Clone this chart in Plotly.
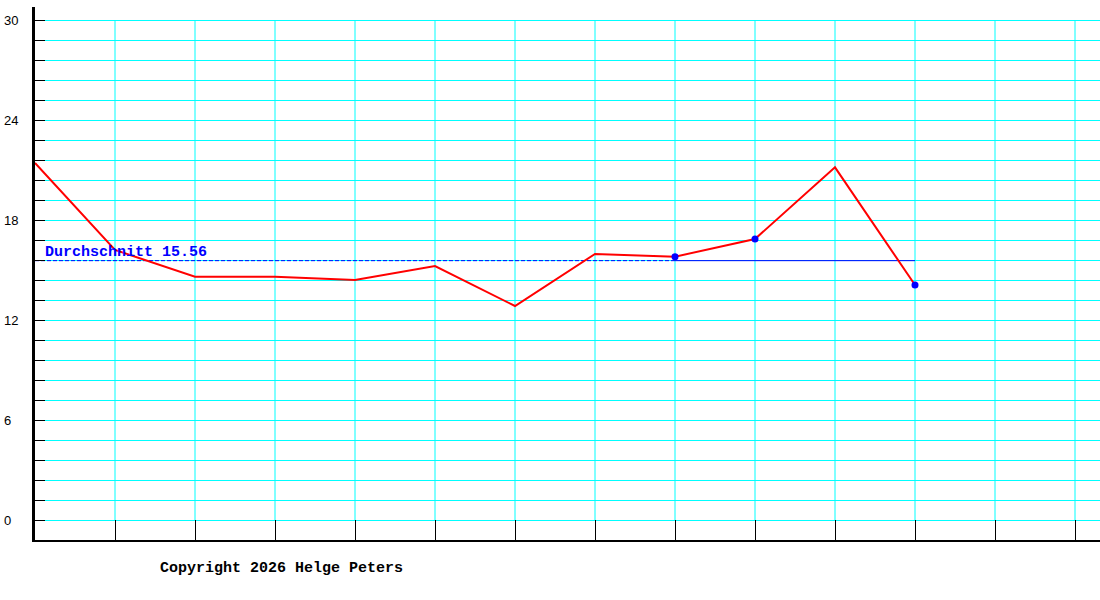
import plotly.graph_objects as go

# Werte
werte = [21.42, 16.2, 14.6, 14.6, 14.4, 15.24, 12.84, 15.96, 15.8, 16.86, 21.16, 14.1]
punkte_idx = [8, 9, 11]
durchschnitt = 15.56
durchschnitt_text = "Durchschnitt 15.56"
gestrichelt_bis = 8

y_beschriftung = [0, 6, 12, 18, 24, 30]
x_spalten = list(range(14))
copyright_text = "Copyright 2026 Helge Peters"

x = list(range(len(werte)))
letzter = len(werte) - 1

plot_b, plot_h = 1065, 533

fig = go.Figure()

# Durchschnittslinie: erst gestrichelt, dann durchgezogen
fig.add_trace(go.Scatter(
    x=[0, gestrichelt_bis], y=[durchschnitt, durchschnitt],
    mode="lines", line=dict(color="#0000ff", width=1, dash="4px,2px"),
    hoverinfo="skip", showlegend=False))
fig.add_trace(go.Scatter(
    x=[gestrichelt_bis, letzter], y=[durchschnitt, durchschnitt],
    mode="lines", line=dict(color="#0000ff", width=1),
    hoverinfo="skip", showlegend=False))

# Verlauf
fig.add_trace(go.Scatter(
    x=x, y=werte, mode="lines",
    line=dict(color="#ff0000", width=2),
    showlegend=False))

# Markierte Punkte
fig.add_trace(go.Scatter(
    x=punkte_idx, y=[werte[i] for i in punkte_idx], mode="markers",
    marker=dict(color="#0000ff", size=7, symbol="circle"),
    showlegend=False))

# senkrechte Gitterlinien
for xs in x_spalten[1:]:
    fig.add_shape(type="line", x0=xs, x1=xs, y0=0, y1=30,
                  xref="x", yref="y", layer="below",
                  line=dict(color="#00ffff", width=1))

# y-Beschriftung links buendig
for v in y_beschriftung:
    fig.add_annotation(x=-33 / plot_b, xref="paper", y=v, yref="y",
                       text=str(v), showarrow=False, xanchor="left",
                       font=dict(family="Liberation Sans", size=13, color="#000000"))

fig.add_annotation(x=8 / plot_b, xref="paper", y=durchschnitt, yref="y",
                   text="<b>" + durchschnitt_text + "</b>", showarrow=False,
                   xanchor="left", yanchor="bottom", yshift=-2,
                   font=dict(family="Liberation Mono", size=15, color="#0000ff"))

fig.add_annotation(x=123 / plot_b, xref="paper", y=-28 / plot_h, yref="paper",
                   text="<b>" + copyright_text + "</b>", showarrow=False,
                   xanchor="left", yanchor="middle",
                   font=dict(family="Liberation Mono", size=15, color="#000000"))

fig.update_layout(
    width=1100, height=600,
    margin=dict(l=35, r=0, t=7, b=60),
    paper_bgcolor="white", plot_bgcolor="white",
    xaxis=dict(range=[0, plot_b / 80], tickvals=x_spalten, showticklabels=False,
               ticks="inside", ticklen=20, tickcolor="black", tickwidth=1,
               showgrid=False, zeroline=False,
               showline=True, linecolor="black", linewidth=2),
    yaxis=dict(range=[-1.2, 30.78], tick0=0, dtick=1.2, showticklabels=False,
               ticks="inside", ticklen=10, tickcolor="black", tickwidth=1,
               showgrid=True, gridcolor="#00ffff", gridwidth=1,
               zeroline=False,
               showline=True, linecolor="black", linewidth=3),
)

# Seitenrand entfernen, damit die Figur bei 0,0 beginnt
fig.write_html("out.html", config={"displayModeBar": False},
               post_script="document.body.style.margin='0px';")
